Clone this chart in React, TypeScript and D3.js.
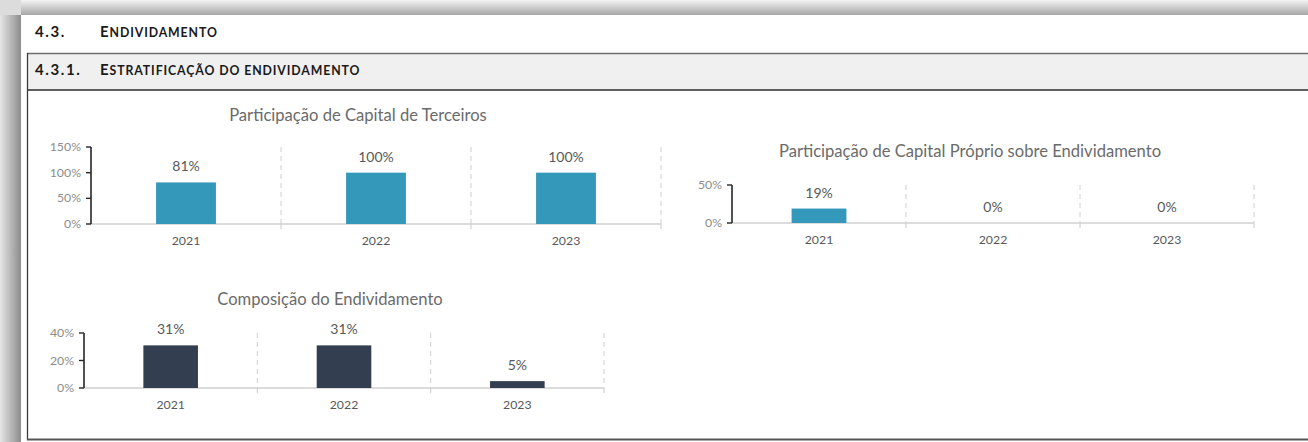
import React from 'react';
import * as d3 from 'd3';

const years = ['2021', '2022', '2023'];
const capitalTerceiros = [81, 100, 100];
const capitalProprio = [19, 0, 0];
const composicao = [31, 31, 5];
const ticksTerceiros = [0, 50, 100, 150];
const ticksProprio = [0, 50];
const ticksComposicao = [0, 20, 40];

const FONT = 'Lato, "Open Sans", sans-serif';
const TXT = '#595959';

type ChartProps = {
  title: string;
  values: number[];
  ticks: number[];
  color: string;
  x0: number; x1: number; yBase: number; yTop: number;
  titleX: number; titleY: number;
};

function BarChart({ title, values, ticks, color, x0, x1, yBase, yTop, titleX, titleY }: ChartProps) {
  const xs = d3.scaleBand<string>().domain(years).range([x0, x1]).paddingInner(0).paddingOuter(0);
  const maxT = d3.max(ticks) as number;
  const ys = d3.scaleLinear().domain([0, maxT]).range([yBase, yTop]);
  const bw = xs.bandwidth() * 0.315;
  return (
    <g>
      <text x={titleX} y={titleY} textAnchor="middle" fontFamily={FONT} fontSize={16.6} fill="#6b6b6b">{title}</text>
      {years.map((y) => {
        const xe = (xs(y) as number) + xs.bandwidth();
        return (
          <g key={'g' + y}>
            <line x1={xe} x2={xe} y1={yTop} y2={yBase} stroke="#d0d0d0" strokeWidth={1} strokeDasharray="5,4" />
            <line x1={xe} x2={xe} y1={yBase} y2={yBase + 5} stroke="#c8c8c8" strokeWidth={1} />
          </g>
        );
      })}
      <line x1={x0} x2={x1} y1={yBase} y2={yBase} stroke="#d0d0d0" strokeWidth={1.3} />
      {values.map((v, i) => {
        const cx = (xs(years[i]) as number) + xs.bandwidth() / 2;
        return (
          <g key={'b' + i}>
            {v > 0 && <rect x={cx - bw / 2} y={ys(v)} width={bw} height={yBase - ys(v)} fill={color} />}
            <text x={cx} y={ys(v) - 11} textAnchor="middle" fontFamily={FONT} fontSize={14} fill={TXT}>{v + '%'}</text>
            <text x={cx} y={yBase + 21} textAnchor="middle" fontFamily={FONT} fontSize={12.3} fill={TXT}>{years[i]}</text>
          </g>
        );
      })}
      <line x1={x0} x2={x0} y1={ys(maxT)} y2={yBase} stroke="#262626" strokeWidth={1.6} />
      {ticks.map((t) => (
        <g key={'t' + t}>
          <line x1={x0 - 5} x2={x0} y1={ys(t)} y2={ys(t)} stroke="#262626" strokeWidth={1.4} />
          <text x={x0 - 10} y={ys(t) + 4} textAnchor="end" fontFamily={FONT} fontSize={12.3} fill="#8c8c8c">{t + '%'}</text>
        </g>
      ))}
    </g>
  );
}

function SmallCaps({ x, y, text }: { x: number; y: number; text: string }) {
  const first = text.charAt(0);
  const rest = text.slice(1).toUpperCase();
  return (
    <text x={x} y={y} fontFamily={FONT} fontWeight={700} fill="#1a1a1a" letterSpacing={0.9}>
      <tspan fontSize={15}>{first}</tspan>
      <tspan fontSize={12.3}>{rest}</tspan>
    </text>
  );
}

export default function App() {
  return (
    <>
      <style>{'html,body{margin:0;padding:0;overflow:hidden;background:#fff;}'}</style>
      <svg width={1308} height={442} style={{ position: 'fixed', left: 0, top: 0, display: 'block', overflow: 'hidden' }}>
        <defs>
          <linearGradient id="shTop" x1="0" y1="0" x2="0" y2="1">
            <stop offset="0" stopColor="#f4f4f4" />
            <stop offset="1" stopColor="#a6a6a6" />
          </linearGradient>
          <linearGradient id="shLeft" x1="0" y1="0" x2="1" y2="0">
            <stop offset="0" stopColor="#e6e6e6" />
            <stop offset="1" stopColor="#8c8c8c" />
          </linearGradient>
        </defs>
        <rect x={0} y={0} width={1308} height={442} fill="#ffffff" />
        <rect x={0} y={0} width={1308} height={15} fill="url(#shTop)" />
        <rect x={0} y={0} width={21} height={442} fill="url(#shLeft)" />
        <rect x={0} y={0} width={21} height={15} fill="#dcdcdc" />

        <text x={35} y={37} fontFamily={FONT} fontWeight={700} fontSize={15} fill="#1a1a1a" letterSpacing={1.6}>4.3.</text>
        <SmallCaps x={100} y={37} text="Endividamento" />
        <rect x={27} y={53.5} width={1290} height={36.5} fill="#f0f0f0" />
        <line x1={27} x2={1308} y1={53.5} y2={53.5} stroke="#6e6e6e" strokeWidth={1.5} />
        <line x1={27} x2={1308} y1={90} y2={90} stroke="#2b2b2b" strokeWidth={1.5} />
        <text x={35} y={75} fontFamily={FONT} fontWeight={700} fontSize={15} fill="#1a1a1a" letterSpacing={1.6}>4.3.1.</text>
        <SmallCaps x={100} y={75} text="Estratificação do endividamento" />
        <line x1={27.5} x2={27.5} y1={53} y2={440} stroke="#3a3a3a" strokeWidth={1.3} />
        <line x1={27} x2={1308} y1={439.5} y2={439.5} stroke="#555555" strokeWidth={2} />

        <BarChart title="Participação de Capital de Terceiros" values={capitalTerceiros} ticks={ticksTerceiros} color="#3398b9"
          x0={91} x1={661} yBase={224} yTop={147} titleX={358} titleY={121} />
        <BarChart title="Participação de Capital Próprio sobre Endividamento" values={capitalProprio} ticks={ticksProprio} color="#3398b9"
          x0={732} x1={1254} yBase={223} yTop={185} titleX={970} titleY={157} />
        <BarChart title="Composição do Endividamento" values={composicao} ticks={ticksComposicao} color="#333f50"
          x0={84} x1={604} yBase={388} yTop={333} titleX={330} titleY={305} />
      </svg>
    </>
  );
}
